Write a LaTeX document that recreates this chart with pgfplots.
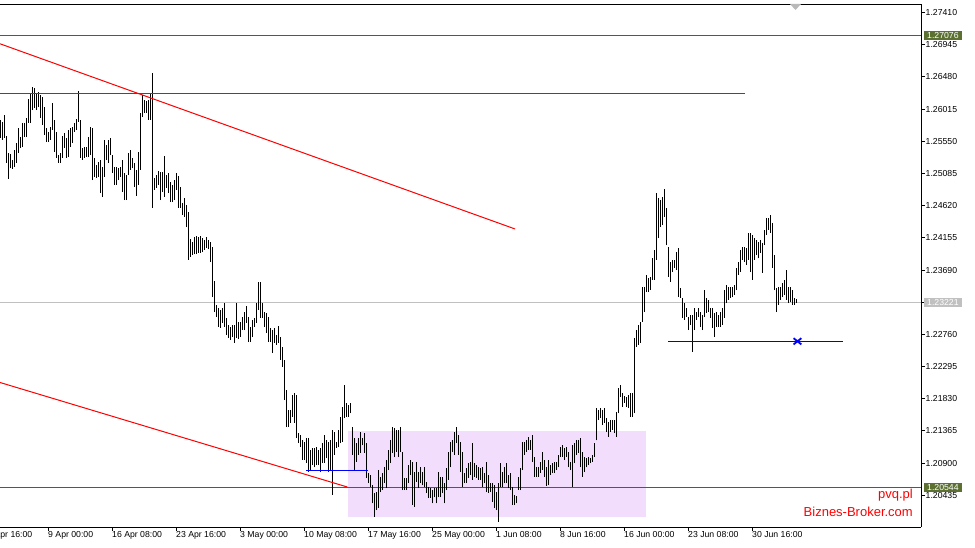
\documentclass[border=0pt]{standalone}
\usepackage{fontspec}
\setmainfont{Liberation Sans}
\usepackage{pgfplots}
\usepackage{pgfplotstable}
\pgfplotsset{compat=1.18}
\definecolor{olivel}{RGB}{79,98,40}
\definecolor{olivebox}{RGB}{91,112,49}
\definecolor{lav}{RGB}{243,221,252}
\definecolor{greyl}{RGB}{192,192,192}
\newcommand\lbl{\fontsize{8.7}{9.5}\selectfont}

\pgfplotstableread{
i lo hi
0 1.2560 1.2586
1 1.2557 1.2583
2 1.2560 1.2593
3 1.2524 1.2563
4 1.2501 1.2538
5 1.2516 1.2537
6 1.2515 1.2528
7 1.2518 1.2542
8 1.2524 1.2553
9 1.2538 1.2574
10 1.2545 1.2561
11 1.2547 1.2582
12 1.2561 1.2582
13 1.2561 1.2589
14 1.2582 1.2616
15 1.2582 1.2625
16 1.2600 1.2634
17 1.2603 1.2632
18 1.2600 1.2625
19 1.2605 1.2626
20 1.2589 1.2622
21 1.2579 1.2619
22 1.2564 1.2605
23 1.2554 1.2574
24 1.2554 1.2569
25 1.2557 1.2576
26 1.2571 1.2610
27 1.2540 1.2586
28 1.2531 1.2569
29 1.2524 1.2535
30 1.2524 1.2538
31 1.2531 1.2563
32 1.2545 1.2567
33 1.2531 1.2560
34 1.2532 1.2571
35 1.2547 1.2574
36 1.2553 1.2576
37 1.2569 1.2582
38 1.2571 1.2587
39 1.2583 1.2628
40 1.2531 1.2586
41 1.2528 1.2545
42 1.2531 1.2547
43 1.2532 1.2547
44 1.2532 1.2561
45 1.2535 1.2576
46 1.2499 1.2574
47 1.2504 1.2531
48 1.2502 1.2521
49 1.2504 1.2525
50 1.2480 1.2528
51 1.2475 1.2518
52 1.2504 1.2557
53 1.2528 1.2550
54 1.2524 1.2557
55 1.2535 1.2560
56 1.2509 1.2535
57 1.2492 1.2518
58 1.2492 1.2518
59 1.2499 1.2516
60 1.2504 1.2518
61 1.2482 1.2528
62 1.2470 1.2509
63 1.2470 1.2506
64 1.2506 1.2538
65 1.2514 1.2542
66 1.2516 1.2531
67 1.2489 1.2524
68 1.2476 1.2514
69 1.2492 1.2540
70 1.2514 1.2596
71 1.2590 1.2622
72 1.2596 1.2615
73 1.2596 1.2613
74 1.2586 1.2615
75 1.2586 1.2625
76 1.2459 1.2654
77 1.2485 1.2502
78 1.2488 1.2506
79 1.2492 1.2512
80 1.2470 1.2511
81 1.2482 1.2511
82 1.2475 1.2534
83 1.2488 1.2506
84 1.2480 1.2509
85 1.2467 1.2496
86 1.2467 1.2492
87 1.2470 1.2499
88 1.2485 1.2509
89 1.2459 1.2505
90 1.2459 1.2489
91 1.2449 1.2466
92 1.2446 1.2473
93 1.2431 1.2463
94 1.2384 1.2453
95 1.2388 1.2414
96 1.2391 1.2410
97 1.2392 1.2417
98 1.2392 1.2418
99 1.2394 1.2417
100 1.2394 1.2418
101 1.2395 1.2415
102 1.2398 1.2412
103 1.2401 1.2417
104 1.2399 1.2412
105 1.2381 1.2410
106 1.2330 1.2402
107 1.2308 1.2353
108 1.2301 1.2319
109 1.2287 1.2314
110 1.2285 1.2311
111 1.2293 1.2314
112 1.2287 1.2321
113 1.2275 1.2300
114 1.2271 1.2290
115 1.2268 1.2287
116 1.2272 1.2290
117 1.2264 1.2290
118 1.2271 1.2321
119 1.2269 1.2294
120 1.2272 1.2294
121 1.2282 1.2301
122 1.2282 1.2308
123 1.2293 1.2317
124 1.2265 1.2301
125 1.2265 1.2287
126 1.2272 1.2297
127 1.2287 1.2300
128 1.2293 1.2321
129 1.2311 1.2352
130 1.2300 1.2352
131 1.2300 1.2321
132 1.2287 1.2308
133 1.2278 1.2307
134 1.2265 1.2301
135 1.2265 1.2285
136 1.2249 1.2282
137 1.2264 1.2285
138 1.2261 1.2275
139 1.2264 1.2288
140 1.2239 1.2272
141 1.2229 1.2258
142 1.2181 1.2239
143 1.2142 1.2196
144 1.2142 1.2167
145 1.2148 1.2167
146 1.2157 1.2188
147 1.2148 1.2191
148 1.2126 1.2188
149 1.2119 1.2134
150 1.2113 1.2131
151 1.2095 1.2123
152 1.2095 1.2121
153 1.2090 1.2126
154 1.2077 1.2126
155 1.2080 1.2109
156 1.2087 1.2112
157 1.2084 1.2112
158 1.2087 1.2113
159 1.2087 1.2109
160 1.2077 1.2112
161 1.2090 1.2119
162 1.2090 1.2131
163 1.2097 1.2123
164 1.2077 1.2121
165 1.2080 1.2123
166 1.2044 1.2138
167 1.2102 1.2135
168 1.2112 1.2121
169 1.2113 1.2138
170 1.2119 1.2157
171 1.2121 1.2171
172 1.2155 1.2203
173 1.2157 1.2177
174 1.2157 1.2174
175 1.2162 1.2177
176 1.2102 1.2142
177 1.2080 1.2126
178 1.2092 1.2119
179 1.2102 1.2126
180 1.2105 1.2135
181 1.2116 1.2126
182 1.2105 1.2134
183 1.2069 1.2119
184 1.2061 1.2076
185 1.2056 1.2073
186 1.2032 1.2058
187 1.2012 1.2047
188 1.2022 1.2048
189 1.2025 1.2080
190 1.2048 1.2070
191 1.2051 1.2076
192 1.2061 1.2084
193 1.2054 1.2095
194 1.2080 1.2109
195 1.2090 1.2123
196 1.2105 1.2142
197 1.2099 1.2141
198 1.2106 1.2138
199 1.2099 1.2138
200 1.2106 1.2142
201 1.2051 1.2106
202 1.2051 1.2069
203 1.2051 1.2069
204 1.2061 1.2087
205 1.2073 1.2095
206 1.2030 1.2092
207 1.2027 1.2077
208 1.2063 1.2092
209 1.2054 1.2077
210 1.2061 1.2084
211 1.2058 1.2077
212 1.2056 1.2084
213 1.2047 1.2063
214 1.2040 1.2056
215 1.2040 1.2054
216 1.2032 1.2051
217 1.2041 1.2054
218 1.2032 1.2054
219 1.2041 1.2077
220 1.2041 1.2070
221 1.2047 1.2070
222 1.2032 1.2061
223 1.2051 1.2083
224 1.2066 1.2106
225 1.2084 1.2121
226 1.2106 1.2123
227 1.2102 1.2135
228 1.2119 1.2142
229 1.2102 1.2131
230 1.2077 1.2121
231 1.2056 1.2106
232 1.2061 1.2076
233 1.2061 1.2083
234 1.2069 1.2090
235 1.2073 1.2092
236 1.2066 1.2119
237 1.2070 1.2090
238 1.2069 1.2087
239 1.2066 1.2084
240 1.2066 1.2083
241 1.2056 1.2084
242 1.2061 1.2076
243 1.2048 1.2092
244 1.2047 1.2073
245 1.2048 1.2061
246 1.2034 1.2061
247 1.2025 1.2058
248 1.2022 1.2048
249 1.2005 1.2061
250 1.2056 1.2090
251 1.2056 1.2077
252 1.2061 1.2084
253 1.2061 1.2090
254 1.2054 1.2073
255 1.2051 1.2076
256 1.2030 1.2056
257 1.2030 1.2044
258 1.2032 1.2043
259 1.2051 1.2070
260 1.2051 1.2083
261 1.2080 1.2121
262 1.2102 1.2121
263 1.2106 1.2123
264 1.2109 1.2128
265 1.2109 1.2123
266 1.2092 1.2131
267 1.2070 1.2099
268 1.2070 1.2084
269 1.2070 1.2084
270 1.2076 1.2092
271 1.2080 1.2106
272 1.2070 1.2095
273 1.2057 1.2084
274 1.2058 1.2095
275 1.2073 1.2087
276 1.2076 1.2090
277 1.2076 1.2092
278 1.2080 1.2092
279 1.2084 1.2102
280 1.2099 1.2113
281 1.2099 1.2116
282 1.2095 1.2112
283 1.2099 1.2113
284 1.2084 1.2106
285 1.2080 1.2092
286 1.2056 1.2116
287 1.2090 1.2119
288 1.2102 1.2123
289 1.2105 1.2123
290 1.2084 1.2126
291 1.2070 1.2106
292 1.2077 1.2099
293 1.2084 1.2097
294 1.2087 1.2099
295 1.2090 1.2097
296 1.2092 1.2102
297 1.2099 1.2119
298 1.2123 1.2170
299 1.2152 1.2167
300 1.2155 1.2170
301 1.2145 1.2167
302 1.2148 1.2170
303 1.2135 1.2155
304 1.2128 1.2149
305 1.2135 1.2152
306 1.2138 1.2152
307 1.2134 1.2152
308 1.2128 1.2164
309 1.2162 1.2199
310 1.2186 1.2203
311 1.2171 1.2191
312 1.2177 1.2187
313 1.2171 1.2186
314 1.2170 1.2188
315 1.2157 1.2191
316 1.2157 1.2191
317 1.2162 1.2271
318 1.2258 1.2282
319 1.2261 1.2290
320 1.2264 1.2294
321 1.2294 1.2345
322 1.2308 1.2345
323 1.2337 1.2362
324 1.2337 1.2358
325 1.2340 1.2359
326 1.2355 1.2386
327 1.2355 1.2398
328 1.2384 1.2480
329 1.2415 1.2473
330 1.2431 1.2470
331 1.2434 1.2475
332 1.2446 1.2486
333 1.2405 1.2459
334 1.2359 1.2402
335 1.2352 1.2381
336 1.2366 1.2384
337 1.2372 1.2384
338 1.2369 1.2395
339 1.2330 1.2401
340 1.2329 1.2343
341 1.2300 1.2329
342 1.2297 1.2321
343 1.2301 1.2314
344 1.2282 1.2301
345 1.2290 1.2304
346 1.2251 1.2304
347 1.2282 1.2314
348 1.2297 1.2308
349 1.2301 1.2314
350 1.2287 1.2308
351 1.2282 1.2304
352 1.2301 1.2340
353 1.2307 1.2329
354 1.2308 1.2326
355 1.2300 1.2314
356 1.2285 1.2314
357 1.2272 1.2307
358 1.2287 1.2308
359 1.2287 1.2304
360 1.2287 1.2308
361 1.2290 1.2314
362 1.2300 1.2340
363 1.2321 1.2347
364 1.2326 1.2345
365 1.2329 1.2345
366 1.2330 1.2345
367 1.2333 1.2347
368 1.2340 1.2372
369 1.2362 1.2381
370 1.2366 1.2398
371 1.2384 1.2402
372 1.2381 1.2402
373 1.2376 1.2401
374 1.2384 1.2423
375 1.2366 1.2423
376 1.2355 1.2420
377 1.2384 1.2415
378 1.2391 1.2412
379 1.2386 1.2410
380 1.2394 1.2412
381 1.2365 1.2408
382 1.2405 1.2427
383 1.2420 1.2444
384 1.2427 1.2444
385 1.2423 1.2449
386 1.2372 1.2437
387 1.2340 1.2391
388 1.2308 1.2343
389 1.2319 1.2345
390 1.2326 1.2345
391 1.2330 1.2350
392 1.2333 1.2355
393 1.2326 1.2369
394 1.2321 1.2345
395 1.2323 1.2345
396 1.2319 1.2340
397 1.2319 1.2329
398 1.2321 1.2327
}\bardata

\begin{document}
\begin{tikzpicture}[x=1pt,y=1pt]
\useasboundingbox (0,0) rectangle (975,548);
\fill[white] (0,0) rectangle (975,548);
\begin{axis}[
  at={(0pt,21pt)}, anchor=south west,
  width=921pt, height=523pt, scale only axis,
  xmin=-0.33, xmax=460.17, ymin=1.19977, ymax=1.27534,
  clip=false,
  axis x line*=bottom, axis y line*=right,
  axis line style={black, line width=0.9pt},
  tick align=outside, major tick length=4pt,
  tick style={black, line width=0.9pt},
  scaled x ticks=false, scaled y ticks=false,
  xtick={23.67,55.67,87.67,119.67,151.67,183.67,215.67,247.67,279.67,311.67,343.67,375.67},
  xticklabels={9 Apr 00:00,16 Apr 08:00,23 Apr 16:00,3 May 00:00,10 May 08:00,17 May 16:00,25 May 00:00,1 Jun 08:00,8 Jun 16:00,16 Jun 00:00,23 Jun 08:00,30 Jun 16:00},
  ytick={1.20435,1.20900,1.21365,1.21830,1.22295,1.22760,1.23225,1.23690,1.24155,1.24620,1.25085,1.25550,1.26015,1.26480,1.26945,1.27410},
  yticklabels={1.20435,1.20900,1.21365,1.21830,1.22295,1.22760,{},1.23690,1.24155,1.24620,1.25085,1.25550,1.26015,1.26480,1.26945,1.27410},
  xticklabel style={font=\lbl, anchor=north west, inner sep=0pt, xshift=0pt},
  yticklabel style={font=\lbl, anchor=west, inner sep=0pt, xshift=0.5pt},
]
% range rectangle
\addplot[fill=lav, draw=none, forget plot] coordinates {(173.5,1.20121) (322.5,1.20121) (322.5,1.2136) (173.5,1.2136)} -- cycle;
% horizontal levels
\addplot[greyl, line width=1pt, forget plot] coordinates {(-0.33,1.23221) (460.17,1.23221)};
\addplot[olivel, line width=1pt, forget plot] coordinates {(-0.33,1.27076) (460.17,1.27076)};
\addplot[olivel, line width=1pt, forget plot] coordinates {(-0.33,1.20544) (460.17,1.20544)};
% OHLC bars (high-low)
\addplot[draw=none, mark=none, forget plot,
  error bars/.cd, y dir=plus, y explicit, error mark=none,
  error bar style={line width=1.1pt, black}]
  table[x=i, y=lo, y error expr=\thisrow{hi}-\thisrow{lo}] {\bardata};
% red lines
\addplot[red, line width=1pt, forget plot] coordinates {(-0.33,1.26244) (372.2,1.26244)};
\addplot[red, line width=1pt, forget plot] coordinates {(-0.33,1.26959) (257.2,1.24283)};
\addplot[red, line width=1pt, forget plot] coordinates {(-0.33,1.22065) (173.3,1.20555)};
% blue lines
\addplot[blue, line width=1pt, forget plot] coordinates {(152.7,1.20796) (183.5,1.20796)};
\addplot[blue!85!black, line width=1pt, forget plot] coordinates {(333.7,1.2266) (421.2,1.2266)};
\addplot[blue, only marks, mark=x, mark size=5.5pt, mark options={yscale=0.8, line width=1.8pt}, forget plot] coordinates {(398.4,1.2266)};
\draw[black, line width=0.9pt] (rel axis cs:0,1) -- (rel axis cs:1,1);
\end{axis}
% first (cut) date label
\node[font=\lbl, anchor=north east, inner sep=0pt] at (32.5,16.5) {2 Apr 16:00};
% price boxes
\node[fill=olivebox, text=white, font=\lbl, anchor=west, inner xsep=3.5pt, inner ysep=0.8pt, minimum height=9pt] at (923.5,512.3) {1.27076};
\node[fill=greyl, text=white, font=\lbl, anchor=west, inner xsep=3.5pt, inner ysep=0.8pt, minimum height=9pt] at (923.5,245.7) {1.23221};
\node[fill=olivebox, text=white, font=\lbl, anchor=west, inner xsep=3.5pt, inner ysep=0.8pt, minimum height=9pt] at (923.5,60.3) {1.20544};
% shift marker
\fill[gray!55] (790,544) -- (801,544) -- (795.5,538) -- cycle;
% watermark texts
\node[anchor=east, text=red, font=\fontsize{13}{15}\selectfont, inner sep=0pt] at (913,53) {pvq.pl};
\node[anchor=east, text=red, font=\fontsize{13}{15}\selectfont, inner sep=0pt] at (913,36) {Biznes-Broker.com};
\end{tikzpicture}
\end{document}
